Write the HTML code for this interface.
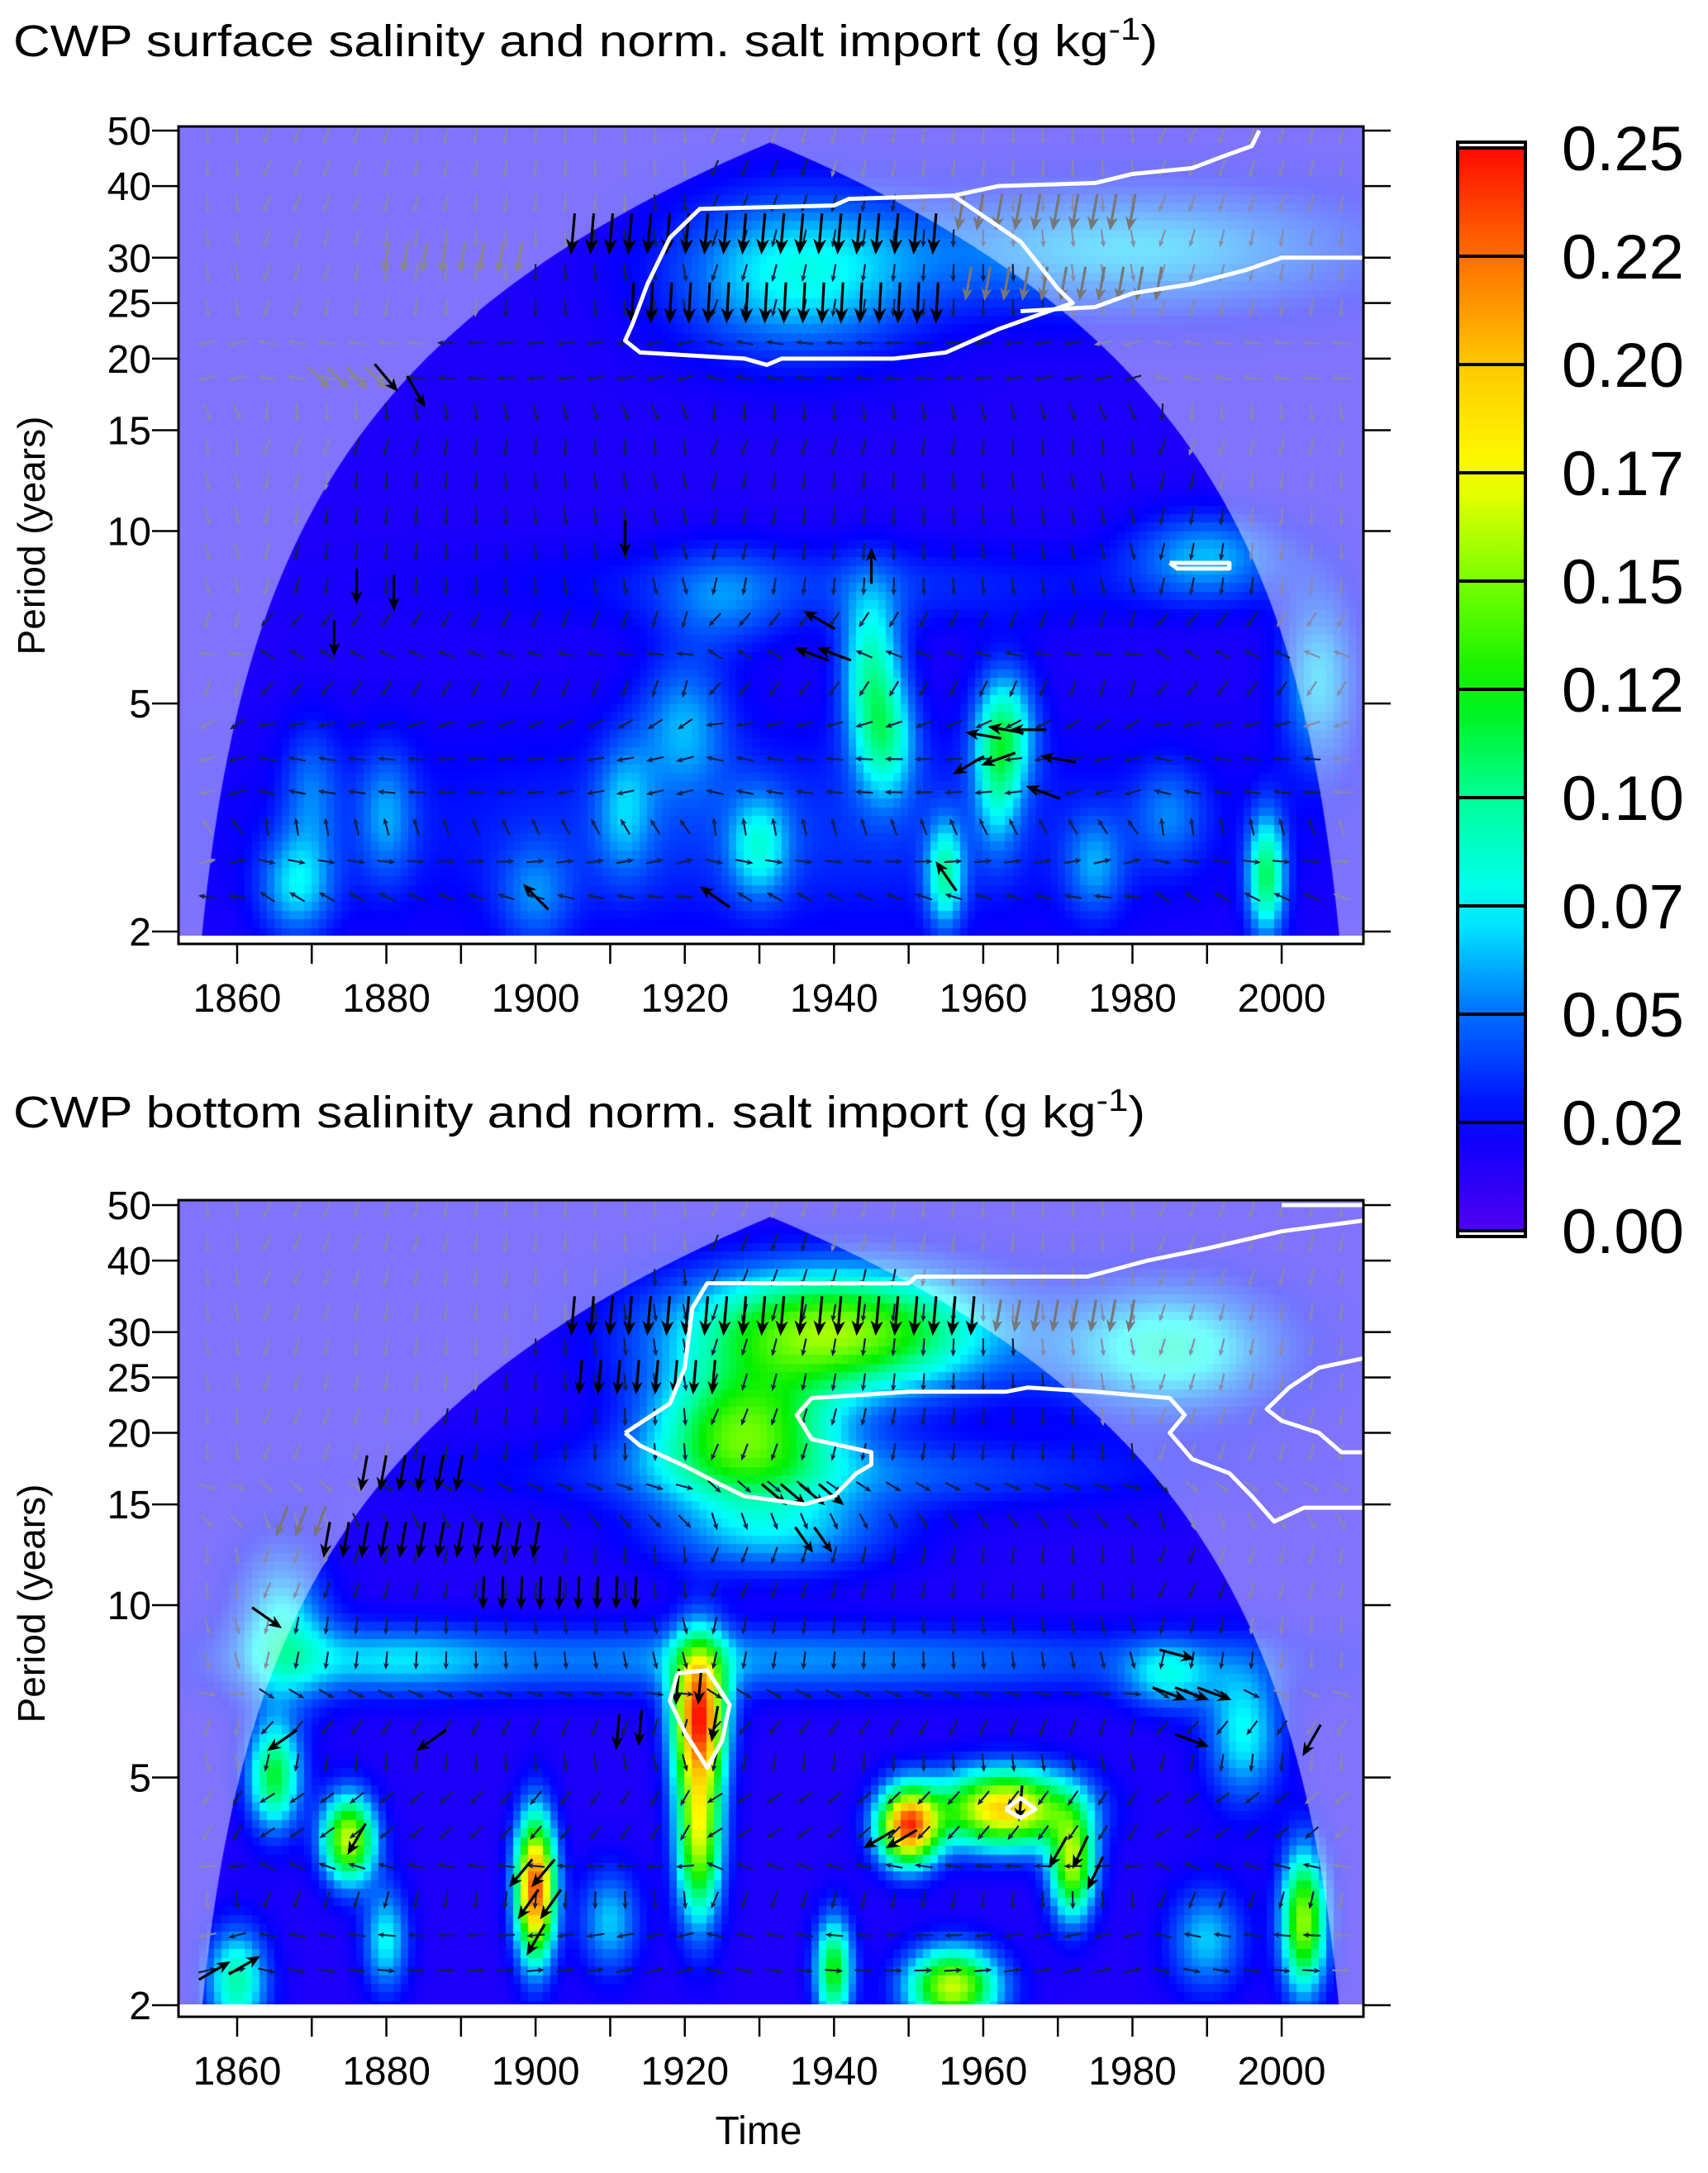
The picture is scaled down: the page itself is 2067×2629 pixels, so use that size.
<!DOCTYPE html>
<html><head><meta charset="utf-8">
<style>
html,body{margin:0;padding:0;background:#fff;width:2067px;height:2629px;overflow:hidden;}
canvas{position:absolute;}
svg{position:absolute;left:0;top:0;}
text{font-family:"Liberation Sans",Arial,sans-serif;fill:#000;}
</style></head>
<body>
<canvas id="heatTop" width="1434" height="979" style="left:216px;top:153px"></canvas>
<canvas id="heatBot" width="1434" height="973" style="left:216px;top:1452px"></canvas>
<svg id="svg" width="2067" height="2629" xmlns="http://www.w3.org/2000/svg">
  <defs><clipPath id="cbclip"><rect x="0" y="0" width="2037" height="2629"/></clipPath></defs>
  <text x="16" y="68" font-size="54" textLength="1385" lengthAdjust="spacingAndGlyphs">CWP surface salinity and norm. salt import (g kg<tspan dy="-20" font-size="38">-1</tspan><tspan dy="20">)</tspan></text>
  <text x="16" y="1364" font-size="54" textLength="1370" lengthAdjust="spacingAndGlyphs">CWP bottom salinity and norm. salt import (g kg<tspan dy="-20" font-size="38">-1</tspan><tspan dy="20">)</tspan></text>
  <text transform="translate(54,648) rotate(-90)" text-anchor="middle" font-size="46">Period (years)</text>
  <text transform="translate(54,1940) rotate(-90)" text-anchor="middle" font-size="46">Period (years)</text>
  <text x="918" y="2594" text-anchor="middle" font-size="48">Time</text>
  <g id="layer"></g>
</svg>
<script>
// ---- data ----
const yearTicks=[1860,1870,1880,1890,1900,1910,1920,1930,1940,1950,1960,1970,1980,1990,2000];
const yearLabels=[1860,1880,1900,1920,1940,1960,1980,2000];
const periodTicks=[2,5,10,15,20,25,30,40,50];
const cbLevels=[0,0.025,0.05,0.075,0.1,0.125,0.15,0.175,0.2,0.225,0.25];
const cbLabels=["0.00","0.025","0.05","0.075","0.10","0.125","0.15","0.175","0.20","0.225","0.25"];
// blobs: year, period, amplitude, year-width, octave-width
const topBlobYears=[1935,1980,1945,1947,1963,1998,1955,1930,1868,1990,1920,2005,1930,1940,1880,1962,1912,1900,1975,1985,1870,1925];
const topBlobPeriods=[28,31,5.8,4.3,4.5,2.5,2.5,2.8,2.4,9,4.6,5.5,3,8,3.2,3.6,3.3,2.3,2.6,3.2,3.5,7.5];
const topBlobAmps=[0.06,0.05,0.07,0.06,0.07,0.09,0.07,0.05,0.05,0.045,0.04,0.05,0.02,0.02,0.035,0.045,0.035,0.03,0.035,0.03,0.03,0.025];
const topBlobSx=[16,30,4,4,4,2.5,2.5,4,5,10,6,5,60,40,4,3,4,5,4,5,4,8];
const topBlobSp=[0.45,0.35,0.45,0.35,0.35,0.35,0.3,0.3,0.3,0.25,0.4,0.5,0.6,0.25,0.4,0.4,0.4,0.3,0.3,0.3,0.4,0.3];
const botBlobYears=[1940,1928,1985,1932,1930,1922,1922,1900,1950,1963,1972,1956,1940,2003,1865,1860,1866,1995,1875,1880,1940,1985,1910,1990,1880];
const botBlobPeriods=[30,20,28,13.5,8,6.5,4,3.2,4.1,4.4,3.5,2.15,2.3,2.8,5,2.2,9,6,3.9,8,17,7.5,2.8,2.6,2.6];
const botBlobAmps=[0.14,0.12,0.07,0.05,0.04,0.21,0.15,0.22,0.21,0.18,0.14,0.15,0.11,0.14,0.1,0.08,0.06,0.06,0.15,0.035,0.03,0.05,0.05,0.05,0.06];
const botBlobSx=[20,12,14,15,60,3.5,3,2.6,4,9,3,6,2.5,3,3.5,4,6,5,3.5,15,40,6,4,5,3];
const botBlobSp=[0.35,0.35,0.35,0.25,0.2,0.4,0.5,0.4,0.22,0.22,0.3,0.22,0.3,0.4,0.3,0.3,0.45,0.4,0.25,0.2,0.2,0.2,0.3,0.3,0.3];
// small arrow grid: row periods and row angles (deg, 0=right, 90=down)
const gridPeriods=[2.3,2.65,3.05,3.5,4.0,4.6,5.3,6.1,7.0,8.0,9.2,10.6,12.2,14.0,16.1,18.5,21.3,24.5,28.2,32.4,37.3,42.9,49];
const topRowAngles=[200,0,250,180,180,160,120,200,120,90,90,90,90,100,80,180,180,95,95,95,100,100,100];
const botRowAngles=[0,180,100,190,135,135,90,120,20,90,90,100,100,60,30,100,100,95,95,95,100,100,100];
// prominent arrows
const topArrowYears=[1880,1884,1912,1945,1876,1881,1873,1938,1937,1940,1960,1963,1966,1958,1962,1970,1968,1955,1900,1924];
const topArrowPeriods=[18.5,17.5,9.7,8.7,8,7.8,6.5,7,6.1,6.1,4.4,4.5,4.5,3.9,4,4,3.5,2.5,2.3,2.3];
const topArrowAngles=[50,60,90,270,90,90,90,210,200,200,190,190,180,150,160,190,200,235,225,215];
// big-arrow rows: [yearFrom, yearTo, step, period, angle, len, color]
const topBigRows=[[1905,1955,2.55,33,95,50,"#000"],[1913,1954,2.55,25,93,50,"#000"],[1957,1980,2.55,36,100,45,"#777"],[1958,1986,2.55,27,100,42,"#777"],[1880,1900,2.55,30,100,38,"#888"],[1871,1879,2.55,18.5,45,38,"#888"]];
const botBigRows=[[1905,1960,2.55,32,95,48,"#000"],[1906,1925,2.55,25,95,42,"#000"],[1962,1980,2.55,32,100,40,"#777"],[1877,1890,2.55,17,100,44,"#000"],[1872,1902,2.55,13,100,44,"#000"],[1893,1915,2.55,10.5,92,40,"#000"],[1866,1872,2.55,14,110,40,"#777"],[1932,1942,2.55,15.6,40,40,"#000"],[1936,1940,2.55,13,55,38,"#000"]];
const botArrowYears=[1919,1922,1924,1911,1914,1898,1901,1899,1902,1900,1946,1949,1965,1970,1973,1975,1986,1985,1988,1991,1988,1866,1886,1876,1857,1861,1864,2004];
const botArrowPeriods=[7.2,7.2,6.2,6,6.1,3.4,3.4,3,3,2.6,3.9,3.9,4.5,3.7,3.7,3.4,8.2,7,7,7,5.8,5.8,5.8,3.9,2.3,2.35,9.5,5.8];
const botArrowAngles=[95,95,100,95,95,130,130,125,125,120,150,150,95,120,115,115,15,20,20,20,20,145,145,120,-30,-30,35,120];
// contours (year, period)
const topContours=[
 [[1913,23],[1915,27],[1918,32.5],[1922,36.5],[1940,37],[1942,38],[1956,38.5],[1965,32],[1970,26.5],[1972,25],[1968,24],[1962,22.5],[1955,20.5],[1948,20],[1933,20],[1931,19.5],[1928,20],[1914,20.5],[1912,21.5],[1913,23]],
 [[1956,38.5],[1962,40],[1975,40.5],[1980,42],[1988,43],[1992,45],[1996,47],[1997,50]],
 [[1965,24.2],[1975,24.6],[1980,26],[1988,27],[1995,28.5],[2000,30],[2011,30]],
 [[1985,8.8],[1993,8.8],[1993,8.6],[1986,8.6],[1985,8.8]]];
const botContours=[
 [[1912,20],[1918,22.5],[1920,26],[1921,33],[1923,36.5],[1950,36.5],[1951,37.5],[1974,37.5],[1982,40],[1990,42],[2000,45],[2011,47]],
 [[1912,20],[1914,19],[1920,17.5],[1925,16.2],[1928,15.5],[1936,15],[1940,15.5],[1943,17],[1945,17.6],[1945,18.5],[1937,19.5],[1935,21.5],[1937,23],[1950,23.6],[1963,23.6],[1966,24],[1975,23.6],[1985,23],[1987,21.5],[1985,20],[1988,18],[1993,17],[1996,15.5],[1999,14],[2003,14.8],[2011,14.8]],
 [[2011,27],[2005,26],[2001,24],[1998,22],[2000,21],[2005,20],[2008,18.5],[2011,18.5]],
 [[2000,50],[2011,50]],
 [[1919,7.6],[1923,7.7],[1926,6.7],[1925,5.8],[1923,5.2],[1920,6],[1918,6.8],[1919,7.6]],
 [[1963,4.4],[1965,4.6],[1967,4.4],[1965,4.25],[1963,4.4]]];

// ---- geometry ----
const NS="http://www.w3.org/2000/svg";
const layer=document.getElementById('layer');
function X(yr){return 287+(yr-1860)*9.029;}
function makeY(top,bot){const k=(bot-top)/Math.log2(25);return p=>top+(Math.log2(50)-Math.log2(p))*k;}
const panels=[{Y:makeY(158,1127),box:[216,153,1650,1142],heatBottom:1132,canvas:'heatTop',by:topBlobYears,bp:topBlobPeriods,ba:topBlobAmps,bx:topBlobSx,bs:topBlobSp,rows:topRowAngles,big:topBigRows,ay:topArrowYears,ap:topArrowPeriods,aa:topArrowAngles,cont:topContours,name:'top'},
 {Y:makeY(1458,2426),box:[216,1452,1650,2440],heatBottom:2428,canvas:'heatBot',by:botBlobYears,bp:botBlobPeriods,ba:botBlobAmps,bx:botBlobSx,bs:botBlobSp,rows:botRowAngles,big:botBigRows,ay:botArrowYears,ap:botArrowPeriods,aa:botArrowAngles,cont:botContours,name:'bottom'}];
const stops=[[0,[80,0,240]],[0.025,[0,0,255]],[0.05,[0,110,255]],[0.075,[0,255,255]],[0.1,[0,255,150]],[0.125,[0,240,0]],[0.15,[120,255,0]],[0.175,[255,255,0]],[0.2,[255,200,0]],[0.225,[255,110,0]],[0.25,[255,10,0]]];
function cmap(v){v=Math.max(0,Math.min(0.25,v));for(let i=1;i<stops.length;i++){if(v<=stops[i][0]){const a=stops[i-1],b=stops[i];const t=(v-a[0])/(b[0]-a[0]);return a[1].map((c,j)=>Math.round(c+(b[1][j]-c)*t));}}return stops[stops.length-1][1];}
function coi(yr){return Math.max(0.1,Math.min(yr-1852,2011-yr)*0.6);}
function el(tag,attrs,parent){const e=document.createElementNS(NS,tag);for(const k in attrs)e.setAttribute(k,attrs[k]);(parent||layer).appendChild(e);return e;}
function arrow(x,y,ang,len,color,w,name){
  const a=ang*Math.PI/180,dx=Math.cos(a),dy=Math.sin(a);
  const x1=x-dx*len/2,y1=y-dy*len/2,x2=x+dx*len/2,y2=y+dy*len/2;
  const h=len*0.38,hw=len*0.16;
  const bx=x2-dx*h,by=y2-dy*h;
  const g=el('g',{});
  
  
  el('line',{x1:x1,y1:y1,x2:bx+dx*h*0.3,y2:by+dy*h*0.3,stroke:color,'stroke-width':w},g);
  el('polygon',{points:`${x2},${y2} ${bx-dy*hw},${by+dx*hw} ${x2-dx*h*0.7},${y2-dy*h*0.7} ${bx+dy*hw},${by-dx*hw}`,fill:color},g);
}

panels.forEach(P=>{
  const [L,T,R,B]=P.box;
  const cv=document.getElementById(P.canvas),ctx=cv.getContext('2d');
  const H=P.heatBottom-T;
  const rowH=Math.abs(P.Y(2)-P.Y(2*Math.pow(2,0.05)));
  for(let yr=1852;yr<2012;yr++){
    for(let py=0;py<H;py+=rowH){
      const yc=T+py+rowH/2;
      const lp=Math.log2(50)-(yc-P.Y(50))/((P.Y(2)-P.Y(50))/Math.log2(25));
      let v=0.016;
      for(let i=0;i<P.by.length;i++){
        const dy=(yr+0.5-P.by[i])/P.bx[i],dp=(lp-Math.log2(P.bp[i]))/P.bs[i];
        v+=P.ba[i]*Math.exp(-dy*dy-dp*dp);
      }
      const c=cmap(v);
      ctx.fillStyle=`rgb(${c[0]},${c[1]},${c[2]})`;
      ctx.fillRect(Math.floor(X(yr)-L),Math.floor(py),Math.ceil(9.03)+1,Math.ceil(rowH)+1);
    }
  }
  ctx.beginPath();ctx.rect(0,0,R-L,H);
  ctx.moveTo(X(1852)-L,P.Y(2)-T+30);
  for(let yr=1852;yr<=2011;yr+=0.25){ctx.lineTo(X(yr)-L,Math.min(P.Y(2)-T+30,P.Y(coi(yr))-T));}
  ctx.closePath();
  ctx.fillStyle='rgba(255,255,255,0.45)';ctx.fill('evenodd');

  for(let r=0;r<gridPeriods.length;r++){
    const p=gridPeriods[r];
    for(let yr=1856;yr<=2010;yr+=4){
      const inside=p<=coi(yr);
      arrow(X(yr),P.Y(p),P.rows[r]+((yr*37)%30-15),22,inside?'#10204a':'#8a8aa8',2.2,'small-arrow');
    }
  }
  P.big.forEach(rw=>{for(let yr=rw[0];yr<=rw[1]+0.01;yr+=rw[2])arrow(X(yr),P.Y(rw[3]),rw[4],rw[5],rw[6],3.2,'phase-arrow');});
  for(let i=0;i<P.ay.length;i++)arrow(X(P.ay[i]),P.Y(P.ap[i]),P.aa[i],44,'#000',3.2,'phase-arrow');
  P.cont.forEach(c=>{
    const pl=el('polyline',{points:c.map(q=>X(q[0])+','+P.Y(q[1])).join(' '),fill:'none',stroke:'#fff','stroke-width':5,'stroke-linejoin':'round'});
    
    
  });
  el('rect',{x:L,y:P.heatBottom,width:R-L,height:B-P.heatBottom,fill:'#fff'});
  const box=el('rect',{x:L,y:T,width:R-L,height:B-T,fill:'none',stroke:'#000','stroke-width':3});
  
  
  periodTicks.forEach(p=>{
    const y=P.Y(p);
    el('line',{x1:L-32,y1:y,x2:L,y2:y,stroke:'#000','stroke-width':2.5});
    el('line',{x1:R,y1:y,x2:R+33,y2:y,stroke:'#000','stroke-width':2.5});
    const t=el('text',{x:L-33,y:y+17,'text-anchor':'end','font-size':48});
    t.textContent=p;
    
    
  });
  yearTicks.forEach(yr=>{el('line',{x1:X(yr),y1:B,x2:X(yr),y2:B+24,stroke:'#000','stroke-width':2.5});});
  yearLabels.forEach(yr=>{
    const t=el('text',{x:X(yr),y:B+82,'text-anchor':'middle','font-size':48});
    t.textContent=yr;
    
    
  });
});

// colorbar
const cbTop=179,cbStep=131,cbL=1764,cbR=1846;
const defs=el('defs',{});
const lg=el('linearGradient',{id:'cbg',x1:0,y1:1,x2:0,y2:0},defs);
for(let i=0;i<=25;i++){const v=i*0.01;const c=cmap(v);el('stop',{offset:(v/0.25),'stop-color':`rgb(${c[0]},${c[1]},${c[2]})`},lg);}
const cb=el('rect',{x:cbL,y:cbTop,width:cbR-cbL,height:cbStep*10,fill:'url(#cbg)'});


el('rect',{x:cbL,y:cbTop-7,width:cbR-cbL,height:cbStep*10+14,fill:'none',stroke:'#000','stroke-width':4});
const cbg=el('g',{'clip-path':'url(#cbclip)'});
cbLevels.forEach((v,i)=>{
  const y=cbTop+cbStep*10-v/0.025*cbStep;
  el('line',{x1:cbL,y1:y,x2:cbR,y2:y,stroke:'#000','stroke-width':4});
  const t=el('text',{x:1890,y:y+27,'font-size':76},cbg);
  t.textContent=cbLabels[i];
  
  
});
</script>
</body></html>
